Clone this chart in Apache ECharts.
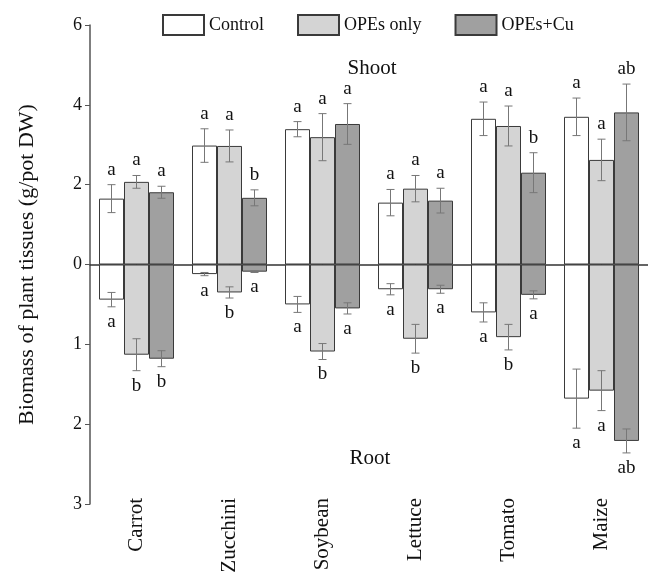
<!DOCTYPE html>
<html>
<head>
<meta charset="utf-8">
<script src="https://cdn.jsdelivr.net/npm/echarts@6/dist/echarts.min.js"></script>
<style>
html, body { margin: 0; padding: 0; background: #fff; }
#chart { width: 648px; height: 572px; }
</style>
</head>
<body>
<div id="chart"></div>
<script>
var categories = ['Carrot', 'Zucchini', 'Soybean', 'Lettuce', 'Tomato', 'Maize'];
var groups = ['Control', 'OPEs only', 'OPEs+Cu'];

// shoot biomass (upper half)
var shootControl = [1.65, 2.98, 3.39, 1.55, 3.65, 3.70];
var shootOpes = [2.07, 2.97, 3.19, 1.90, 3.47, 2.62];
var shootOpesCu = [1.81, 1.67, 3.52, 1.60, 2.30, 3.81];
var shootErrControl = [0.35, 0.42, 0.19, 0.33, 0.42, 0.47];
var shootErrOpes = [0.16, 0.40, 0.59, 0.33, 0.50, 0.52];
var shootErrOpesCu = [0.15, 0.20, 0.51, 0.31, 0.50, 0.71];
var shootLettersControl = ['a', 'a', 'a', 'a', 'a', 'a'];
var shootLettersOpes = ['a', 'a', 'a', 'a', 'a', 'a'];
var shootLettersOpesCu = ['a', 'b', 'a', 'a', 'b', 'ab'];

// root biomass (lower half, drawn at double scale)
var rootControl = [0.44, 0.12, 0.50, 0.31, 0.60, 1.68];
var rootOpes = [1.13, 0.35, 1.09, 0.93, 0.91, 1.58];
var rootOpesCu = [1.18, 0.09, 0.55, 0.31, 0.38, 2.21];
var rootErrControl = [0.09, 0.02, 0.10, 0.07, 0.12, 0.37];
var rootErrOpes = [0.20, 0.07, 0.10, 0.18, 0.16, 0.25];
var rootErrOpesCu = [0.10, 0.01, 0.07, 0.05, 0.05, 0.15];
var rootLettersControl = ['a', 'a', 'a', 'a', 'a', 'a'];
var rootLettersOpes = ['b', 'b', 'b', 'b', 'b', 'a'];
var rootLettersOpesCu = ['b', 'a', 'a', 'a', 'a', 'ab'];

var ROOT_FACTOR = -2;
var colors = ['#ffffff', '#d4d4d4', '#a0a0a0'];
var font = '"Liberation Serif", "Times New Roman", serif';
var barW = 25;

function barSeries(g, values, factor) {
    return {
        name: groups[g],
        type: 'bar',
        stack: 'g' + g,
        barWidth: barW,
        barGap: 0,
        itemStyle: {color: colors[g], borderColor: '#3a3a3a', borderWidth: 1},
        data: values.map(function (v) { return v * factor; })
    };
}

function errSeries(g, values, errs, letters, factor) {
    return {
        type: 'custom',
        z: 5,
        silent: true,
        data: values.map(function (v, i) { return [i, v * factor, errs[i] * Math.abs(factor)]; }),
        renderItem: function (params, api) {
            var i = api.value(0), m = api.value(1), e = api.value(2);
            var x = api.coord([i, 0])[0] + (g - 1) * barW;
            var p1 = api.coord([i, m - e])[1], p2 = api.coord([i, m + e])[1];
            var yTop = Math.min(p1, p2), yBot = Math.max(p1, p2);
            var st = {stroke: '#777', lineWidth: 1};
            var ly = factor > 0 ? yTop - 15 : yBot + 15;
            return {
                type: 'group',
                children: [
                    {type: 'line', shape: {x1: x, y1: yTop, x2: x, y2: yBot}, style: st},
                    {type: 'line', shape: {x1: x - 4, y1: yTop, x2: x + 4, y2: yTop}, style: st},
                    {type: 'line', shape: {x1: x - 4, y1: yBot, x2: x + 4, y2: yBot}, style: st},
                    {type: 'text', x: x, y: ly, style: {
                        text: letters[params.dataIndex], fill: '#111', font: '19px ' + font,
                        textAlign: 'center', textVerticalAlign: 'middle'
                    }}
                ]
            };
        }
    };
}

var chart = echarts.init(document.getElementById('chart'));
chart.setOption({
    animation: false,
    backgroundColor: '#fff',
    textStyle: {fontFamily: font},
    grid: {left: 90, right: 0, top: 25, bottom: 68, outerBoundsMode: 'none'},
    legend: {
        data: groups,
        left: 162,
        top: 14,
        padding: 0,
        icon: 'rect',
        itemWidth: 41,
        itemHeight: 20,
        itemGap: 33,
        textStyle: {fontFamily: font, fontSize: 18, color: '#111'}
    },
    graphic: [
        {type: 'text', x: 372, y: 68, style: {text: 'Shoot', font: '21px ' + font, fill: '#111', textAlign: 'center', textVerticalAlign: 'middle'}},
        {type: 'text', x: 370, y: 458, style: {text: 'Root', font: '21px ' + font, fill: '#111', textAlign: 'center', textVerticalAlign: 'middle'}}
    ],
    xAxis: [
        {
            type: 'category',
            data: categories,
            position: 'bottom',
            axisLine: {show: false, onZero: false},
            axisTick: {show: false},
            axisLabel: {rotate: 90, margin: -6, fontSize: 21, color: '#111', fontFamily: font}
        },
        {
            type: 'category',
            data: categories,
            position: 'top',
            axisLine: {show: true, onZero: true, lineStyle: {color: '#333', width: 1.5}},
            axisTick: {show: true, inside: true, alignWithLabel: true, length: 5, lineStyle: {color: '#333'}},
            axisLabel: {show: false}
        }
    ],
    yAxis: {
        type: 'value',
        min: -6,
        max: 6,
        interval: 2,
        name: 'Biomass of plant tissues (g/pot DW)',
        nameLocation: 'middle',
        nameGap: 52,
        nameTextStyle: {fontSize: 22, color: '#111', fontFamily: font},
        axisLine: {show: true, lineStyle: {color: '#555', width: 1.5}},
        axisTick: {show: true, length: 5, lineStyle: {color: '#555'}},
        splitLine: {show: false},
        axisLabel: {
            fontSize: 18, color: '#111', margin: 8, fontFamily: font,
            formatter: function (v) { return v >= 0 ? String(v) : String(v / ROOT_FACTOR); }
        }
    },
    series: [
        barSeries(0, shootControl, 1),
        barSeries(1, shootOpes, 1),
        barSeries(2, shootOpesCu, 1),
        barSeries(0, rootControl, ROOT_FACTOR),
        barSeries(1, rootOpes, ROOT_FACTOR),
        barSeries(2, rootOpesCu, ROOT_FACTOR),
        errSeries(0, shootControl, shootErrControl, shootLettersControl, 1),
        errSeries(1, shootOpes, shootErrOpes, shootLettersOpes, 1),
        errSeries(2, shootOpesCu, shootErrOpesCu, shootLettersOpesCu, 1),
        errSeries(0, rootControl, rootErrControl, rootLettersControl, ROOT_FACTOR),
        errSeries(1, rootOpes, rootErrOpes, rootLettersOpes, ROOT_FACTOR),
        errSeries(2, rootOpesCu, rootErrOpesCu, rootLettersOpesCu, ROOT_FACTOR)
    ]
});
</script>
</body>
</html>
